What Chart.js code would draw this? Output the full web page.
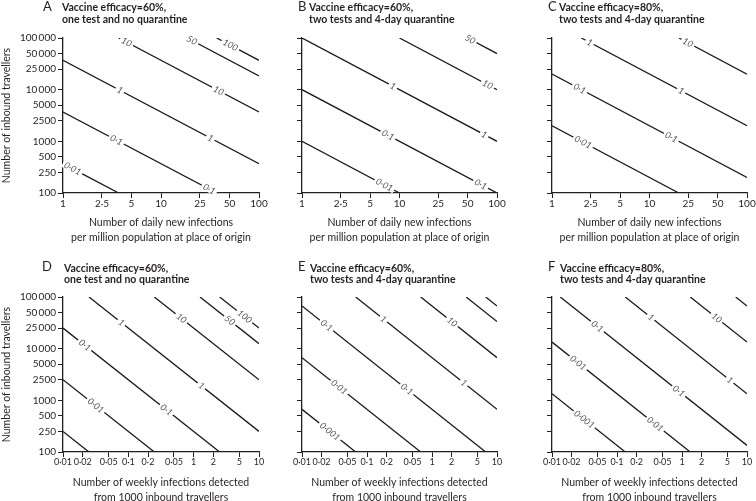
<!DOCTYPE html>
<html>
<head>
<meta charset="utf-8">
<script src="https://cdn.jsdelivr.net/npm/chart.js@4.4.1/dist/chart.umd.min.js"></script>
<style>
  body { margin: 0; background: #fff; overflow: hidden; }
  #wrap { position: relative; width: 756px; height: 501px; }
  canvas { position: absolute; }
</style>
</head>
<body>
<div id="wrap">
  <canvas id="pA" width="270" height="250" style="left:0;top:0"></canvas>
  <canvas id="pB" width="250" height="250" style="left:270px;top:0"></canvas>
  <canvas id="pC" width="236" height="250" style="left:520px;top:0"></canvas>
  <canvas id="pD" width="270" height="255" style="left:0;top:250px"></canvas>
  <canvas id="pE" width="250" height="255" style="left:270px;top:250px"></canvas>
  <canvas id="pF" width="236" height="255" style="left:520px;top:250px"></canvas>
</div>
<script>
// axis ticks
var yTicks = [100, 250, 500, 1000, 2500, 5000, 10000, 25000, 50000, 100000];
var yTickText = ['100', '250', '500', '1000', '2500', '5000', '10\u2009000', '25\u2009000', '50\u2009000', '100\u2009000'];
var xDaily = [1, 2.5, 5, 10, 25, 50, 100];
var xDailyText = ['1', '2·5', '5', '10', '25', '50', '100'];
var xWeekly = [0.01, 0.02, 0.05, 0.1, 0.2, 0.5, 1, 2, 5, 10];
var xWeeklyText = ['0·01', '0·02', '0·05', '0·1', '0·2', '0·05', '1', '2', '5', '10'];

// contour lines: level, start point, end point (x, y)
var lvA = ['0·01', '0·1', '1', '10', '50', '100'];
var fromA = [[1, 370], [1, 3700], [1, 37000], [3.7, 100000], [18.5, 100000], [37, 100000]];
var toA = [[3.7, 100], [37, 100], [100, 370], [100, 3700], [100, 18500], [100, 37000]];
var tagA = [[0, 1.25], [1, 3.5], [1, 31], [2, 3.8], [2, 32], [3, 4.45], [3, 38.6], [4, 20.6], [5, 51]];

var lvB = ['0·01', '0·1', '1', '10', '50'];
var fromB = [[1, 1000], [1, 10000], [1, 100000], [10, 100000], [50, 100000]];
var toB = [[10, 100], [100, 100], [100, 1000], [100, 10000], [100, 50000]];
var tagB = [[0, 7], [1, 7.6], [1, 68], [2, 8.55], [2, 74], [3, 80], [4, 53]];

var lvC = ['0·01', '0·1', '1', '10'];
var fromC = [[1, 2000], [1, 20000], [2, 100000], [20, 100000]];
var toC = [[20, 100], [100, 200], [100, 2000], [100, 20000]];
var tagC = [[0, 2.08], [1, 1.92], [1, 16.7], [2, 2.43], [2, 21.1], [3, 24.7]];

var lvD = ['0·001', '0·01', '0·1', '1', '10', '50', '100'];
var fromD = [[0.01, 250], [0.01, 2500], [0.01, 25000], [0.025, 100000], [0.25, 100000], [1.25, 100000], [2.5, 100000]];
var toD = [[0.025, 100], [0.25, 100], [2.5, 100], [10, 250], [10, 2500], [10, 12500], [10, 25000]];
var tagD = [[1, 0.0316], [2, 0.0215], [2, 0.382], [3, 0.078], [3, 1.31], [4, 0.647], [5, 3.56], [6, 6.0]];

var lvE = ['0·001', '0·01', '0·1', '1', '10', '50', '100'];
var fromE = [[0.01, 670], [0.01, 6700], [0.01, 67000], [0.067, 100000], [0.67, 100000], [3.35, 100000], [6.7, 100000]];
var toE = [[0.067, 100], [0.67, 100], [6.7, 100], [10, 670], [10, 6700], [10, 33500], [10, 67000]];
var tagE = [[0, 0.0268], [1, 0.0373], [2, 0.0238], [2, 0.41], [3, 0.179], [3, 3.09], [4, 2.04]];

var lvF = ['0·001', '0·01', '0·1', '1', '10', '50'];
var fromF = [[0.01, 1340], [0.01, 13400], [0.0134, 100000], [0.134, 100000], [1.34, 100000], [6.7, 100000]];
var toF = [[0.134, 100], [1.34, 100], [10, 134], [10, 1340], [10, 13400], [10, 67000]];
var tagF = [[0, 0.0313], [1, 0.0252], [1, 0.387], [2, 0.0497], [2, 0.888], [3, 0.331], [3, 5.46], [4, 3.4]];

var ink = '#231f20';
Chart.defaults.font.family = 'Lato, sans-serif';
Chart.defaults.color = ink;

function titlePlugin(letter, lines, lx, tx, base) {
    return {
        id: 'panelTitle',
        afterDraw: function (chart) {
            var ctx = chart.ctx;
            ctx.save();
            ctx.fillStyle = ink;
            ctx.textBaseline = 'alphabetic';
            ctx.font = '13px Lato';
            ctx.fillText(letter, lx, base);
            ctx.font = 'bold 10.5px Lato';
            ctx.fillText(lines[0], tx, base + 0.5);
            ctx.fillText(lines[1], tx, base + 12);
            ctx.restore();
        }
    };
}

function tagPlugin(lv, from, to, tags) {
    return {
        id: 'contourTags',
        afterDatasetsDraw: function (chart) {
            var ctx = chart.ctx, xs = chart.scales.x, ys = chart.scales.y;
            tags.forEach(function (t) {
                var k = t[0], xv = t[1];
                var a = from[k], b = to[k];
                var f = (Math.log(xv) - Math.log(a[0])) / (Math.log(b[0]) - Math.log(a[0]));
                var yv = Math.exp(Math.log(a[1]) + f * (Math.log(b[1]) - Math.log(a[1])));
                var ang = Math.atan2(ys.getPixelForValue(b[1]) - ys.getPixelForValue(a[1]),
                    xs.getPixelForValue(b[0]) - xs.getPixelForValue(a[0]));
                ctx.save();
                ctx.translate(xs.getPixelForValue(xv), ys.getPixelForValue(yv));
                ctx.rotate(ang);
                ctx.font = 'italic 9px Lato';
                ctx.textAlign = 'center';
                ctx.textBaseline = 'middle';
                var w = ctx.measureText(lv[k]).width + 4;
                ctx.fillStyle = '#fff';
                ctx.fillRect(-w / 2, -3.5, w, 7);
                ctx.fillStyle = '#555';
                ctx.fillText(lv[k], 0, 0);
                ctx.restore();
            });
        }
    };
}

function panel(id, p) {
    var xs = p.daily ? xDaily : xWeekly;
    var xt = p.daily ? xDailyText : xWeeklyText;
    var xTitle = p.daily
        ? ['Number of daily new infections', 'per million population at place of origin']
        : ['Number of weekly infections detected', 'from 1000 inbound travellers'];
    var sets = p.from.map(function (s, i) {
        return {
            data: [{ x: s[0], y: s[1] }, { x: p.to[i][0], y: p.to[i][1] }],
            borderColor: '#1a1a1a',
            borderWidth: 1.3,
            pointRadius: 0
        };
    });
    return new Chart(document.getElementById(id), {
        type: 'line',
        data: { datasets: sets },
        options: {
            responsive: false,
            animation: false,
            events: [],
            layout: { padding: { left: 0, right: p.padR, top: p.padT, bottom: p.padB } },
            plugins: { legend: { display: false }, tooltip: { enabled: false } },
            scales: {
                x: {
                    type: 'logarithmic',
                    min: xs[0],
                    max: xs[xs.length - 1],
                    z: 1,
                    afterBuildTicks: function (s) { s.ticks = xs.map(function (v) { return { value: v }; }); },
                    afterFit: function (s) { s.height = p.xH; },
                    ticks: {
                        autoSkip: false, maxRotation: 0, minRotation: 0, padding: 0,
                        font: { size: p.daily ? 10 : 9 },
                        callback: function (v, i) { return xt[i]; }
                    },
                    grid: { drawOnChartArea: false, tickLength: 5, color: ink },
                    border: { color: ink, width: 1.3 },
                    title: { display: true, text: xTitle, padding: 0, font: { size: 10.5, lineHeight: '15px' } }
                },
                y: {
                    type: 'logarithmic',
                    min: 100,
                    max: 100000,
                    z: 1,
                    afterBuildTicks: function (s) { s.ticks = yTicks.map(function (v) { return { value: v }; }); },
                    afterFit: function (s) { s.width = p.yW; },
                    ticks: {
                        display: p.labels, padding: 2,
                        font: { size: 10 },
                        callback: function (v, i) { return yTickText[i]; }
                    },
                    grid: { drawOnChartArea: false, tickLength: 5, color: ink },
                    border: { color: ink, width: 1.3 },
                    title: { display: p.labels, text: 'Number of inbound travellers', padding: 0, font: { size: 10.5, lineHeight: '13px' } }
                }
            }
        },
        plugins: [tagPlugin(p.lv, p.from, p.to, p.tags), titlePlugin(p.letter, p.title, p.lx, p.tx, p.base)]
    });
}

var top1 = { padT: 38, padB: 5, xH: 52 };
var top2 = { padT: 47, padB: 0, xH: 53 };

panel('pA', Object.assign({ daily: true, labels: true, yW: 63, padR: 11, lv: lvA, from: fromA, to: toA, tags: tagA,
    letter: 'A', title: ['Vaccine efficacy=60%,', 'one test and no quarantine'], lx: 43, tx: 62, base: 10.5 }, top1));
panel('pB', Object.assign({ daily: true, labels: false, yW: 32, padR: 23, lv: lvB, from: fromB, to: toB, tags: tagB,
    letter: 'B', title: ['Vaccine efficacy=60%,', 'two tests and 4-day quarantine'], lx: 28, tx: 39, base: 10.5 }, top1));
panel('pC', Object.assign({ daily: true, labels: false, yW: 32, padR: 9, lv: lvC, from: fromC, to: toC, tags: tagC,
    letter: 'C', title: ['Vaccine efficacy=80%,', 'two tests and 4-day quarantine'], lx: 28, tx: 39, base: 10.5 }, top1));
panel('pD', Object.assign({ daily: false, labels: true, yW: 63, padR: 11, lv: lvD, from: fromD, to: toD, tags: tagD,
    letter: 'D', title: ['Vaccine efficacy=60%,', 'one test and no quarantine'], lx: 42, tx: 64, base: 21 }, top2));
panel('pE', Object.assign({ daily: false, labels: false, yW: 32, padR: 23, lv: lvE, from: fromE, to: toE, tags: tagE,
    letter: 'E', title: ['Vaccine efficacy=60%,', 'two tests and 4-day quarantine'], lx: 28, tx: 40, base: 21 }, top2));
panel('pF', Object.assign({ daily: false, labels: false, yW: 32, padR: 9, lv: lvF, from: fromF, to: toF, tags: tagF,
    letter: 'F', title: ['Vaccine efficacy=80%,', 'two tests and 4-day quarantine'], lx: 28, tx: 40, base: 21 }, top2));
</script>
</body>
</html>
